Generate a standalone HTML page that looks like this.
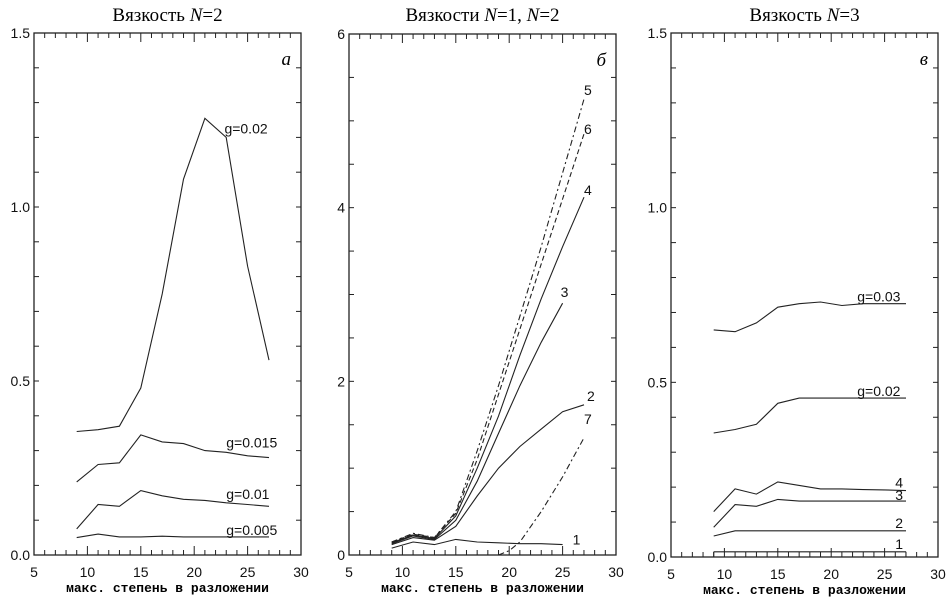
<!DOCTYPE html>
<html><head><meta charset="utf-8"><style>
body{margin:0;background:#fff;}
svg{display:block;font-family:"Liberation Sans",sans-serif;}
.t{font-family:"Liberation Serif","Noto Serif CJK SC",serif;font-size:19px;}
.tk{font-size:14px;fill:#111;}
.xl{font-family:"Liberation Mono",monospace;font-weight:bold;font-size:13px;}
.lb{font-size:14px;fill:#111;}
</style></head><body>
<svg id="c" width="950" height="602"></svg>
<script>
const xs = [9,11,13,15,17,19,21,23,25,27];
// Panel a
const aNames = ["g=0.02","g=0.015","g=0.01","g=0.005"];
const aG02 = [0.355,0.36,0.37,0.48,0.75,1.08,1.255,1.2,0.83,0.56];
const aG015 = [0.21,0.26,0.265,0.345,0.325,0.32,0.3,0.295,0.285,0.28];
const aG01 = [0.075,0.145,0.14,0.185,0.17,0.16,0.157,0.15,0.145,0.14];
const aG005 = [0.05,0.06,0.052,0.052,0.054,0.052,0.052,0.052,0.052,0.052];
// Panel b
const b1 = [0.08,0.15,0.12,0.18,0.15,0.14,0.13,0.13,0.12];
const b2 = [0.12,0.2,0.17,0.33,0.68,1.0,1.25,1.45,1.65,1.73];
const b3 = [0.13,0.22,0.18,0.4,0.85,1.4,1.95,2.45,2.9];
const b4 = [0.14,0.23,0.19,0.45,1.0,1.6,2.3,2.95,3.55,4.12];
const b5 = [0.15,0.25,0.2,0.5,1.2,1.95,2.75,3.55,4.4,5.25];
const b6 = [0.15,0.24,0.2,0.48,1.1,1.85,2.6,3.35,4.1,4.85];
const b7x = [19,20,21,23,25,27];
const b7 = [0,0.05,0.15,0.5,0.9,1.35];
// Panel c
const cG03 = [0.65,0.645,0.67,0.715,0.725,0.73,0.72,0.725,0.725,0.725];
const cG02 = [0.355,0.365,0.38,0.44,0.455,0.455,0.455,0.455,0.455,0.455];
const c4 = [0.13,0.195,0.18,0.215,0.205,0.195,0.195,0.193,0.192,0.19];
const c3 = [0.085,0.15,0.145,0.165,0.16,0.16,0.16,0.16,0.16,0.16];
const c2 = [0.06,0.075,0.075,0.075,0.075,0.075,0.075,0.075,0.075,0.075];
const c1 = [0.015,0.015,0.015,0.015,0.015,0.015,0.015,0.015,0.015,0.015];
const xTicks = [5,10,15,20,25,30];
const aYTicks = ["0.0","0.5","1.0","1.5"];
const bYTicks = ["0","2","4","6"];

const NS="http://www.w3.org/2000/svg";
const svg=document.getElementById('c');
function mk(tag,attrs,parent){const e=document.createElementNS(NS,tag);for(const k in attrs)e.setAttribute(k,attrs[k]);(parent||svg).appendChild(e);return e;}

function panel(id,L,R,T,B,ymax,yMinor,yLabels,title,letter){
  const g=mk('g',{});
  
  
  const sx=v=>L+(v-5)/25*(R-L);
  const sy=v=>B-v/ymax*(B-T);
  const fr=mk('rect',{x:L,y:T,width:R-L,height:B-T,fill:'none',stroke:'#222','stroke-width':1.3},g);
  
  
  for(let v=5;v<=30;v++){
    const major=v%5===0, len=major?9:5;
    mk('line',{x1:sx(v),x2:sx(v),y1:B,y2:B-len,stroke:'#222'},g);
    mk('line',{x1:sx(v),x2:sx(v),y1:T,y2:T+len,stroke:'#222'},g);
  }
  xTicks.forEach(v=>{const t=mk('text',{x:sx(v),y:B+22,'text-anchor':'middle',class:'tk'},g);t.textContent=v;
    });
  const n=Math.round(ymax/yMinor);
  for(let i=0;i<=n;i++){const y=sy(i*yMinor);
    mk('line',{x1:L,x2:L+5,y1:y,y2:y,stroke:'#222'},g);
    mk('line',{x1:R,x2:R-5,y1:y,y2:y,stroke:'#222'},g);}
  yLabels.forEach((s,i)=>{const t=mk('text',{x:L-4,y:sy(i*ymax/(yLabels.length-1))+5,'text-anchor':'end',class:'tk'},g);t.textContent=s;
    });
  const tt=mk('text',{x:(L+R)/2,y:21,'text-anchor':'middle',class:'t'},g);tt.innerHTML=title;
  
  const lt=mk('text',{x:R-10,y:T+32,'text-anchor':'end',class:'t','font-style':'italic','font-size':'24'},g);lt.textContent=letter;
  
  const xl=mk('text',{x:(L+R)/2,y:B+37,'text-anchor':'middle',class:'xl'},g);xl.textContent='макс. степень в разложении';
  
  return {g,sx,sy};
}
function line(p,xv,yv,name,dash){
  const pts=yv.map((v,i)=>p.sx(xv[i]).toFixed(1)+','+p.sy(v).toFixed(1)).join(' ');
  const e=mk('polyline',{points:pts,fill:'none',stroke:'#222','stroke-width':1.1},p.g);
  if(dash)e.setAttribute('stroke-dasharray',dash);
  
  
  return e;
}
function lab(p,xv,yv,txt,dx,dy){
  const t=mk('text',{x:p.sx(xv)+dx,y:p.sy(yv)+dy,class:'lb'},p.g);t.textContent=txt;
  
}
const pa=panel('panel-a',34,301,33,555,1.5,0.1,aYTicks,'Вязкость <tspan font-style="italic">N</tspan>=2','а');
line(pa,xs,aG02,'line-g002');line(pa,xs,aG015,'line-g0015');line(pa,xs,aG01,'line-g001');line(pa,xs,aG005,'line-g0005');
lab(pa,23.3,1.24,aNames[0],-5,10);lab(pa,23,0.32,aNames[1],0,4);lab(pa,23,0.17,aNames[2],0,3);lab(pa,23,0.06,aNames[3],0,1);

const pb=panel('panel-b',349,616,34,555,6,0.5,bYTicks,'Вязкости <tspan font-style="italic">N</tspan>=1, <tspan font-style="italic">N</tspan>=2','б');
line(pb,xs,b1,'line-1');line(pb,xs,b2,'line-2');line(pb,xs,b3,'line-3');line(pb,xs,b4,'line-4');
line(pb,xs,b5,'line-5','6,3,2,3');line(pb,xs,b6,'line-6','5,3');line(pb,b7x,b7,'line-7','6,3,2,3');
lab(pb,25,b1[8],'1',10,0);lab(pb,27,b2[9],'2',3,-4);lab(pb,25,b3[8],'3',-2,-6);lab(pb,27,b4[9],'4',0,-2);
lab(pb,27,b5[9],'5',0,-4);lab(pb,27,b6[9],'6',0,0);lab(pb,27,b7[5],'7',0,-14);

const pc=panel('panel-c',671,938,33,557,1.5,0.1,aYTicks,'Вязкость <tspan font-style="italic">N</tspan>=3','в');
line(pc,xs,cG03,'line-g003');line(pc,xs,cG02,'line-g002');line(pc,xs,c4,'line-4');line(pc,xs,c3,'line-3');line(pc,xs,c2,'line-2');line(pc,xs,c1,'line-1');
mk('line',{x1:pc.sx(9),x2:pc.sx(9),y1:pc.sy(0),y2:pc.sy(c1[0]),stroke:'#222'},pc.g);
mk('line',{x1:pc.sx(27),x2:pc.sx(27),y1:pc.sy(0),y2:pc.sy(c1[9]),stroke:'#222'},pc.g);
lab(pc,23,0.725,'g=0.03',-6,-2);lab(pc,23,0.455,'g=0.02',-6,-2);
lab(pc,26,0.19,'4',0,-3);lab(pc,26,0.16,'3',0,-1);lab(pc,26,0.075,'2',0,-3);lab(pc,26,0.015,'1',0,-3);
</script>
</body></html>
